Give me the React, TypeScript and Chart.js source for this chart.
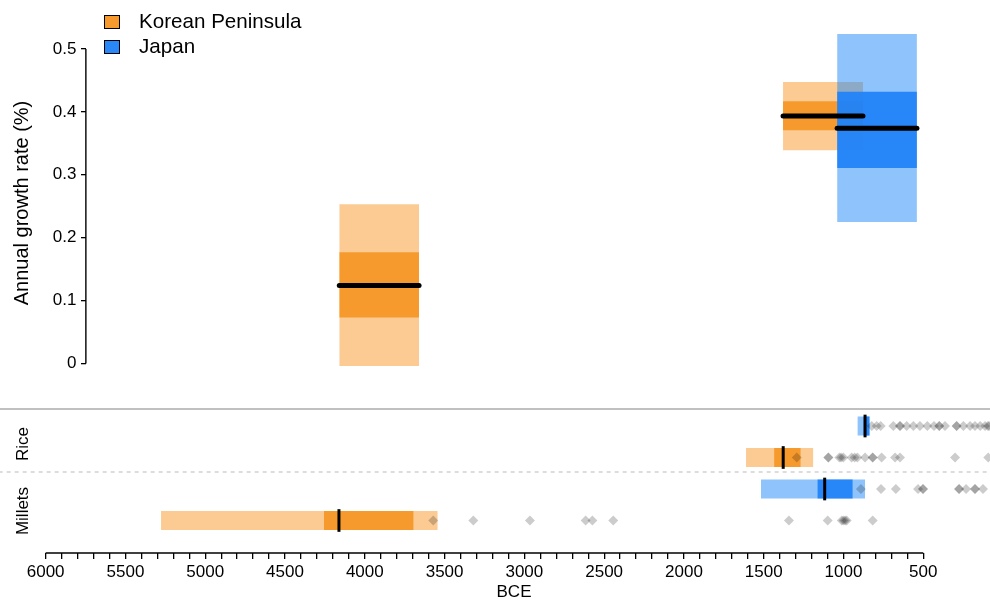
import React, { useEffect, useRef } from 'react';
import { Chart, registerables } from 'chart.js';

Chart.register(...registerables);

// ---------- axes / ticks ----------
const X_MIN = 82;
const X_MAX = 6048;
const X_MAJOR_TICKS = [6000, 5500, 5000, 4500, 4000, 3500, 3000, 2500, 2000, 1500, 1000, 500];
const X_MINOR_STEP = 100;
const Y_TICKS = [0, 0.1, 0.2, 0.3, 0.4, 0.5];
const Y_MIN = -0.3013;
const Y_MAX = 0.5779;
const Y_AXIS_AT = 5748;
const Y2_MIN = -0.0317;
const Y2_MAX = 17.524;

// ---------- legend / regions ----------
const REGIONS = ['Korean Peninsula', 'Japan'];
const REGION_OUTER = ['rgba(247,152,40,0.5)', 'rgba(30,136,250,0.5)'];
const REGION_INNER = ['rgba(247,152,40,0.95)', 'rgba(30,130,248,0.92)'];
const REGION_SWATCH = ['#F79A2E', '#2A87F7'];

// ---------- top panel: annual growth rate ----------
const GROWTH_REGION = [0, 0, 1];
const GROWTH_FROM = [4160, 1379, 1040];
const GROWTH_TO = [3660, 878, 540];
const GROWTH_OUTER_LO = [-0.004, 0.339, 0.225];
const GROWTH_OUTER_HI = [0.253, 0.4475, 0.524];
const GROWTH_INNER_LO = [0.073, 0.371, 0.311];
const GROWTH_INNER_HI = [0.177, 0.417, 0.432];
const GROWTH_MEDIAN = [0.124, 0.3935, 0.374];

// ---------- bottom panel: crop arrival ----------
const CROP_LABELS = ['Rice', 'Millets'];
const CROP_ROWS = [4, 3, 2, 1]; // Japan rice, Korea rice, Japan millets, Korea millets
const CROP_REGION = [1, 0, 1, 0];
const CROP_OUTER_FROM = [913, 1611, 1517, 5277];
const CROP_OUTER_TO = [834, 1189, 865, 3543];
const CROP_INNER_FROM = [875, 1435, 1164, 4256];
const CROP_INNER_TO = [838, 1268, 942, 3694];
const CROP_MEDIAN = [865, 1378, 1118, 4162];

const JAPAN_RICE_DATES = [823, 792, 767, 688, 646, 646, 604, 562, 521, 475, 433, 400, 400, 364, 291, 291, 249, 207, 176, 144, 113, 95, 88];
const KOREA_RICE_DATES = [1293, 1095, 1095, 1026, 1015, 1001, 949, 930, 913, 865, 817, 817, 761, 677, 646, 301, 93];
const JAPAN_MILLET_DATES = [891, 765, 672, 533, 502, 502, 276, 276, 232, 176, 176, 126];
const KOREA_MILLET_DATES = [3571, 3320, 2965, 2616, 2574, 2443, 1342, 1099, 1011, 1000, 990, 980, 817];
const CROP_DATES = [JAPAN_RICE_DATES, KOREA_RICE_DATES, JAPAN_MILLET_DATES, KOREA_MILLET_DATES];

const PANEL_DIVIDER = 4.54;
const CROP_DIVIDER = 2.54;
const BOX_HALF = 0.3;
const MEDIAN_HALF = 0.36;

const FONT = '"Liberation Sans", Arial, Helvetica, sans-serif';

const axisLinePlugin = {
  id: 'axisLines',
  afterDraw(chart: any) {
    const { ctx, scales } = chart;
    const x = scales.x;
    const y = scales.y;
    ctx.save();
    ctx.strokeStyle = '#000';
    ctx.lineWidth = 1.4;
    const yb = chart.chartArea.bottom;
    ctx.beginPath();
    ctx.moveTo(x.getPixelForValue(X_MAJOR_TICKS[0]), yb);
    ctx.lineTo(x.getPixelForValue(X_MAJOR_TICKS[X_MAJOR_TICKS.length - 1]), yb);
    ctx.stroke();
    const yx = x.getPixelForValue(Y_AXIS_AT);
    ctx.beginPath();
    ctx.moveTo(yx, y.getPixelForValue(Y_TICKS[0]));
    ctx.lineTo(yx, y.getPixelForValue(Y_TICKS[Y_TICKS.length - 1]));
    ctx.stroke();
    ctx.restore();
  },
};

function zeroPadding(s: any) {
  s.paddingTop = 0;
  s.paddingBottom = 0;
  s.paddingLeft = 0;
  s.paddingRight = 0;
}

function rect(x1: number, x2: number, lo: number, hi: number, color: string, yAxisID: string, order: number) {
  return {
    data: [
      { x: Math.min(x1, x2), y: hi },
      { x: Math.max(x1, x2), y: hi },
    ],
    yAxisID,
    fill: { value: lo },
    backgroundColor: color,
    borderWidth: 0,
    pointRadius: 0,
    order,
  };
}

export default function App() {
  const ref = useRef<HTMLCanvasElement>(null);

  useEffect(() => {
    const canvas = ref.current;
    if (!canvas) return;
    Chart.defaults.font.family = FONT;
    Chart.defaults.color = '#000';

    const datasets: any[] = [];

    // dividers
    datasets.push({
      data: [{ x: -1000, y: PANEL_DIVIDER }, { x: 8000, y: PANEL_DIVIDER }],
      yAxisID: 'y2',
      borderColor: '#ABABAB',
      borderWidth: 1.6,
      pointRadius: 0,
      clip: false,
      order: 100,
    });
    datasets.push({
      data: [{ x: -1000, y: CROP_DIVIDER }, { x: 8000, y: CROP_DIVIDER }],
      yAxisID: 'y2',
      borderColor: '#D2D2D2',
      borderWidth: 1.5,
      borderDash: [4, 4],
      pointRadius: 0,
      clip: false,
      order: 100,
    });

    // growth boxes
    GROWTH_FROM.forEach((from, i) => {
      const r = GROWTH_REGION[i];
      const base = r === 0 ? 90 : 80;
      datasets.push(rect(from, GROWTH_TO[i], GROWTH_OUTER_LO[i], GROWTH_OUTER_HI[i], REGION_OUTER[r], 'y', base));
      datasets.push(rect(from, GROWTH_TO[i], GROWTH_INNER_LO[i], GROWTH_INNER_HI[i], REGION_INNER[r], 'y', base - 5));
      datasets.push({
        data: [
          { x: Math.min(from, GROWTH_TO[i]), y: GROWTH_MEDIAN[i] },
          { x: Math.max(from, GROWTH_TO[i]), y: GROWTH_MEDIAN[i] },
        ],
        yAxisID: 'y',
        borderColor: '#000',
        borderWidth: 5,
        borderCapStyle: 'round',
        pointRadius: 0,
        order: 20,
      });
    });

    // crop boxes
    CROP_ROWS.forEach((row, i) => {
      const r = CROP_REGION[i];
      datasets.push(rect(CROP_OUTER_FROM[i], CROP_OUTER_TO[i], row - BOX_HALF, row + BOX_HALF, REGION_OUTER[r], 'y2', 60));
      datasets.push(rect(CROP_INNER_FROM[i], CROP_INNER_TO[i], row - BOX_HALF, row + BOX_HALF, REGION_INNER[r], 'y2', 55));
      datasets.push({
        data: [
          { x: CROP_MEDIAN[i], y: row - MEDIAN_HALF },
          { x: CROP_MEDIAN[i], y: row + MEDIAN_HALF },
        ],
        yAxisID: 'y2',
        borderColor: '#000',
        borderWidth: 3,
        pointRadius: 0,
        order: 20,
      });
      datasets.push({
        data: CROP_DATES[i].slice().sort((a, b) => a - b).map((d) => ({ x: d, y: row })),
        yAxisID: 'y2',
        showLine: false,
        pointStyle: 'rectRot',
        pointRadius: 5,
        pointBorderWidth: 0,
        pointBackgroundColor: 'rgba(0,0,0,0.2)',
        order: 10,
      });
    });

    const chart = new Chart(canvas, {
      type: 'line',
      data: { datasets },
      plugins: [axisLinePlugin],
      options: {
        animation: false,
        responsive: false,
        devicePixelRatio: 1,
        events: [],
        layout: { autoPadding: false, padding: { left: 38, right: 0, top: 0, bottom: 0 } },
        plugins: { legend: { display: false }, tooltip: { enabled: false } },
        scales: {
          x: {
            type: 'linear',
            position: 'bottom',
            reverse: true,
            min: X_MIN,
            max: X_MAX,
            afterFit: (s: any) => {
              s.height = 48;
              zeroPadding(s);
            },
            afterBuildTicks: (s: any) => {
              const ticks: any[] = [];
              for (let v = X_MAJOR_TICKS[0]; v >= X_MAJOR_TICKS[X_MAJOR_TICKS.length - 1]; v -= X_MINOR_STEP) {
                ticks.push({ value: v });
              }
              s.ticks = ticks;
            },
            border: { display: false },
            grid: { display: true, drawOnChartArea: false, drawTicks: true, tickLength: 6, color: '#000', lineWidth: 1.3 },
            ticks: {
              autoSkip: false,
              maxRotation: 0,
              minRotation: 0,
              padding: 3,
              color: '#000',
              font: { size: 17, family: FONT },
              callback: (v: any) => (X_MAJOR_TICKS.includes(Number(v)) ? String(v) : ''),
            },
            title: {
              display: true,
              text: 'BCE',
              color: '#000',
              font: { size: 17, family: FONT, lineHeight: 1 },
              padding: { top: 0, bottom: 0 },
            },
          },
          y: {
            type: 'linear',
            position: { x: Y_AXIS_AT } as any,
            min: Y_MIN,
            max: Y_MAX,
            afterFit: (s: any) => zeroPadding(s),
            afterBuildTicks: (s: any) => {
              s.ticks = Y_TICKS.map((v) => ({ value: v }));
            },
            border: { display: false },
            grid: { display: true, drawOnChartArea: false, drawTicks: true, tickLength: 5, color: '#000', lineWidth: 1.3 },
            ticks: {
              autoSkip: false,
              padding: 4,
              color: '#000',
              font: { size: 17, family: FONT },
              // right-aligned at the axis line: trailing spaces leave room for the tick marks
              callback: (v: any) => String(v) + '  ',
            },
          },
          y2: {
            type: 'linear',
            display: false,
            min: Y2_MIN,
            max: Y2_MAX,
            afterFit: (s: any) => zeroPadding(s),
          },
        },
      } as any,
    });
    return () => chart.destroy();
  }, []);

  const rotated = (cx: number, cy: number, size: number): React.CSSProperties => ({
    position: 'absolute',
    left: cx,
    top: cy,
    transform: 'translate(-50%, -50%) rotate(-90deg)',
    whiteSpace: 'nowrap',
    fontSize: size,
    lineHeight: 1,
    color: '#000',
  });

  return (
    <div style={{ position: 'fixed', left: 0, top: 0, width: 990, height: 601, background: '#fff', fontFamily: FONT }}>
      <canvas ref={ref} width={990} height={601} style={{ position: 'absolute', left: 0, top: 0, width: 990, height: 601 }} />
      {REGIONS.map((name, i) => (
        <React.Fragment key={name}>
          <div
            style={{
              position: 'absolute',
              left: 104,
              top: 15 + i * 25,
              width: 14,
              height: 12,
              background: REGION_SWATCH[i],
              border: '1px solid #000',
            }}
          />
          <div
            style={{
              position: 'absolute',
              left: 139,
              top: 11 + i * 25,
              fontSize: 20.6,
              lineHeight: '20px',
              color: '#000',
              whiteSpace: 'nowrap',
            }}
          >
            {name}
          </div>
        </React.Fragment>
      ))}
      <div style={rotated(21, 203, 20)}>Annual growth rate (%)</div>
      <div style={rotated(22, 444, 17)}>{CROP_LABELS[0]}</div>
      <div style={rotated(22, 511, 17)}>{CROP_LABELS[1]}</div>
    </div>
  );
}
